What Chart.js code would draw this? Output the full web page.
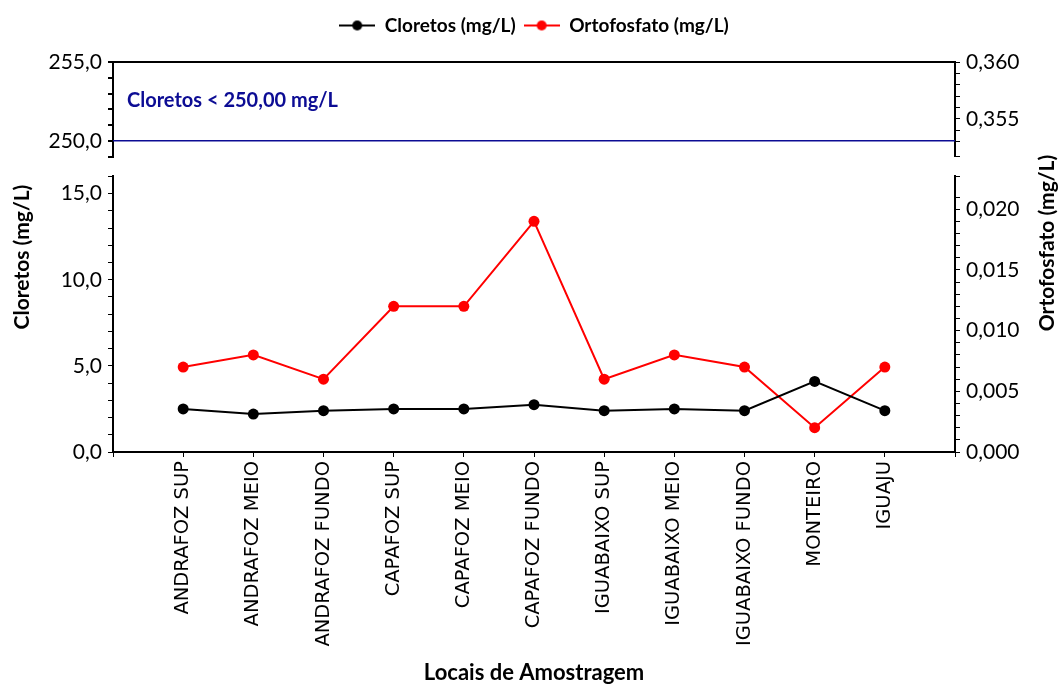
<!DOCTYPE html>
<html>
<head>
<meta charset="utf-8">
<script src="https://cdn.jsdelivr.net/npm/chart.js@4/dist/chart.umd.min.js"></script>
<style>
  html, body { margin: 0; padding: 0; background: #fff; }
  #wrap { width: 1060px; height: 686px; }
</style>
</head>
<body>
<div id="wrap"><canvas id="grafico" width="1060" height="686"></canvas></div>
<script>
// Sampling sites and measured values
const locais = ['ANDRAFOZ SUP', 'ANDRAFOZ MEIO', 'ANDRAFOZ FUNDO', 'CAPAFOZ SUP', 'CAPAFOZ MEIO',
  'CAPAFOZ FUNDO', 'IGUABAIXO SUP', 'IGUABAIXO MEIO', 'IGUABAIXO FUNDO', 'MONTEIRO', 'IGUAJU'];
const cloretos = [2.5, 2.2, 2.4, 2.5, 2.5, 2.75, 2.4, 2.5, 2.4, 4.1, 2.4];
const ortofosfato = [0.007, 0.008, 0.006, 0.012, 0.012, 0.019, 0.006, 0.008, 0.007, 0.002, 0.007];
const limiteCloretos = 250;
const textoLimite = 'Cloretos < 250,00 mg/L';
const tituloCloretos = 'Cloretos (mg/L)';
const tituloOrtofosfato = 'Ortofosfato (mg/L)';
const tituloX = 'Locais de Amostragem';

// one empty slot at each end leaves a full step of space around the sites
const rotulosX = ['', ...locais, ''];
const serieCloretos = [null, ...cloretos, null];
const serieOrtofosfato = [null, ...ortofosfato, null];
const serieLimite = rotulosX.map(() => limiteCloretos);

const FONTE_NUM = 'Lato';
const AZUL = '#0c0c94';

function simboloLegenda(cor) {
  const c = document.createElement('canvas');
  c.width = 36; c.height = 14;
  const g = c.getContext('2d');
  g.strokeStyle = cor; g.lineWidth = 2;
  g.beginPath(); g.moveTo(0, 7); g.lineTo(36, 7); g.stroke();
  g.fillStyle = cor;
  g.beginPath(); g.arc(18, 7, 5, 0, Math.PI * 2); g.fill();
  return c;
}

const fmtCloretos = v => {
  const r = Math.round(v);
  return (Math.abs(v - r) < 1e-6 && r % 5 === 0) ? v.toFixed(1).replace('.', ',') : '';
};
const fmtOrto = v => {
  const r = Math.round(v * 1000);
  return (Math.abs(v * 1000 - r) < 1e-6 && r % 5 === 0) ? v.toFixed(3).replace('.', ',') : '';
};

const larguraEsq = s => { s.width = 68; };
const larguraDir = s => { s.width = 68; };
const fonteTicks = { family: FONTE_NUM, size: 21 };

const eixoY = (extra) => Object.assign({
  type: 'linear',
  clip: false,
  border: { display: true, color: '#000', width: 2 },
  grid: { drawOnChartArea: false, tickLength: 5, tickColor: '#000', tickWidth: 1 }
}, extra);

const espaco = (pos, fit) => ({
  type: 'linear', position: pos, stack: pos, stackWeight: 20,
  border: { display: false }, grid: { display: false }, ticks: { display: false },
  afterFit: fit
});

const textos = {
  id: 'textos',
  afterDraw(chart) {
    const { ctx, chartArea: a, scales } = chart;
    ctx.save();
    ctx.fillStyle = '#000';
    ctx.font = 'bold 21px ' + FONTE_NUM;
    ctx.textAlign = 'center';
    ctx.textBaseline = 'middle';
    ctx.save();
    ctx.translate(a.left - 91, (a.top + a.bottom) / 2);
    ctx.rotate(-Math.PI / 2);
    ctx.fillText(tituloCloretos, 0, 0);
    ctx.restore();
    ctx.save();
    ctx.translate(a.right + 92, (a.top + a.bottom) / 2 - 14);
    ctx.rotate(-Math.PI / 2);
    ctx.fillText(tituloOrtofosfato, 0, 0);
    ctx.restore();
    ctx.fillStyle = AZUL;
    ctx.font = 'bold 20px ' + FONTE_NUM;
    ctx.textAlign = 'left';
    ctx.fillText(textoLimite, a.left + 14, scales.yTop.getPixelForValue(limiteCloretos) - 40);
    ctx.restore();
  }
};

new Chart(document.getElementById('grafico'), {
  type: 'line',
  data: {
    labels: rotulosX,
    datasets: [
      {
        label: tituloCloretos, data: serieCloretos, yAxisID: 'yBot',
        borderColor: '#000', backgroundColor: '#000', borderWidth: 2,
        pointRadius: 5.5, pointBorderWidth: 0, pointStyle: 'circle'
      },
      {
        label: tituloOrtofosfato, data: serieOrtofosfato, yAxisID: 'yBotR',
        borderColor: '#ff0000', backgroundColor: '#ff0000', borderWidth: 2,
        pointRadius: 5.5, pointBorderWidth: 0, pointStyle: 'circle'
      },
      {
        label: 'limite', data: serieLimite, yAxisID: 'yTop',
        borderColor: AZUL, backgroundColor: AZUL, borderWidth: 1.6, pointRadius: 0
      }
    ]
  },
  options: {
    responsive: false,
    devicePixelRatio: 1,
    animation: false,
    layout: { padding: { left: 45, right: 37, top: 8, bottom: 0 } },
    plugins: {
      tooltip: { enabled: false },
      legend: {
        position: 'top',
        labels: {
          color: '#000',
          font: { family: FONTE_NUM, size: 19, weight: 'bold' },
          usePointStyle: true,
          pointStyleWidth: 36,
          padding: 8,
          generateLabels: chart => chart.data.datasets.slice(0, 2).map((ds, i) => ({
            text: ds.label, datasetIndex: i, pointStyle: simboloLegenda(ds.borderColor),
            fillStyle: ds.borderColor, strokeStyle: ds.borderColor, lineWidth: 0, hidden: false, fontColor: '#000'
          }))
        }
      }
    },
    scales: {
      x: {
        type: 'category', position: 'bottom', offset: false,
        border: { display: true, color: '#000', width: 2 },
        grid: { drawOnChartArea: false, tickLength: 5, color: '#000' },
        ticks: { color: '#000', font: { family: 'DejaVu Sans', size: 19.5 }, minRotation: 90, maxRotation: 90, autoSkip: false, padding: 4 },
        title: { display: true, text: tituloX, color: '#000', font: { family: FONTE_NUM, size: 22, weight: 'bold' }, padding: { top: 0, bottom: 0 } },
        afterFit: s => { s.height = 234; }
      },
      // spacing between the legend and the upper panel
      xTopo: {
        type: 'category', position: 'top', labels: rotulosX,
        border: { display: false }, grid: { display: false }, ticks: { display: false },
        afterFit: s => { s.height = 17; }
      },
      // left stack: lower panel, gap, upper panel
      yBot: eixoY({ position: 'left', stack: 'left', stackWeight: 277, min: 0, max: 16,
        ticks: { color: '#000', font: fonteTicks, padding: 6, autoSkip: false, stepSize: 1, callback: fmtCloretos },
        afterFit: larguraEsq }),
      yGapL: espaco('left', larguraEsq),
      yTop: eixoY({ position: 'left', stack: 'left', stackWeight: 95, min: 249, max: 255,
        grid: { drawOnChartArea: true, tickLength: 5, tickColor: '#000', lineWidth: 2,
          color: c => (c.tick && c.tick.value === 255) ? '#000' : 'rgba(0,0,0,0)' },
        ticks: { color: '#000', font: fonteTicks, padding: 6, autoSkip: false, stepSize: 1, callback: fmtCloretos },
        afterFit: larguraEsq }),
      // right stack: upper panel, gap, lower panel
      yTopR: eixoY({ position: 'right', stack: 'right', stackWeight: 95, min: 0.3517, max: 0.360,
        ticks: { color: '#000', font: fonteTicks, padding: 6, autoSkip: false, stepSize: 0.001, callback: fmtOrto },
        afterFit: larguraDir }),
      yGapR: espaco('right', larguraDir),
      yBotR: eixoY({ position: 'right', stack: 'right', stackWeight: 277, min: 0, max: 0.0227,
        ticks: { color: '#000', font: fonteTicks, padding: 6, autoSkip: false, stepSize: 0.001, callback: fmtOrto },
        afterFit: larguraDir })
    }
  },
  plugins: [textos]
});
</script>
</body>
</html>
